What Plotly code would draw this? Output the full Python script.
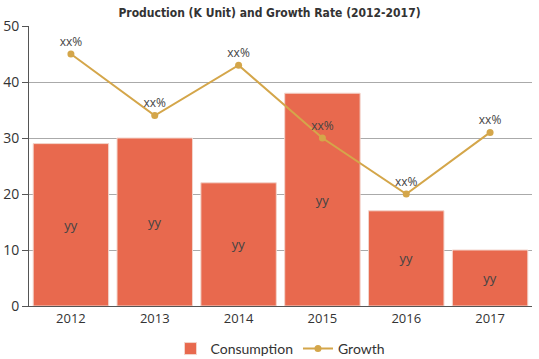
import plotly.graph_objects as go

years = ["2012", "2013", "2014", "2015", "2016", "2017"]
consumption = [29, 30, 22, 38, 17, 10]
growth = [45, 34, 43, 30, 20, 31]
bar_labels = ["yy"] * 6
growth_labels = ["xx%"] * 6

fig = go.Figure()
fig.add_trace(go.Bar(
    x=years, y=consumption, name="Consumption",
    marker=dict(color="#E8694E", line=dict(color="#F3D5CC", width=1)),
    text=bar_labels, textposition="inside", insidetextanchor="middle",
    textfont=dict(color="#444444", size=13, family="Open Sans"),
    width=0.9,
))
fig.add_trace(go.Scatter(
    x=years, y=growth, name="Growth", mode="lines+markers+text",
    line=dict(color="#D4A64A", width=2),
    marker=dict(color="#D4A64A", size=7),
    text=growth_labels, textposition="top center",
    textfont=dict(color="#444444", size=12, family="Open Sans"),
))

fig.update_layout(
    width=539, height=359,
    margin=dict(l=29, r=7, t=26, b=53, autoexpand=False),
    plot_bgcolor="white", paper_bgcolor="white",
    title=dict(text="<b>Production (K Unit) and Growth Rate (2012-2017)</b>",
               x=0.5, xanchor="center", y=0.965, yanchor="middle",
               font=dict(family="DejaVu Sans Condensed", size=12, color="#333333")),
    showlegend=True,
    legend=dict(orientation="h", x=0.5, xanchor="center",
                yref="container", y=0.028, yanchor="middle",
                itemwidth=30, tracegroupgap=0,
                font=dict(family="Lato", size=14, color="#333333")),
    bargap=0.1,
    font=dict(family="Open Sans", color="#333333"),
)
fig.update_xaxes(showline=True, linecolor="#555555", linewidth=1, ticks="",
                 automargin=False,
                 tickfont=dict(size=13, color="#333333"), showgrid=False)
fig.update_yaxes(range=[0, 50], dtick=10, showline=True, linecolor="#555555", linewidth=1,
                 ticks="outside", ticklen=6, tickcolor="#555555", automargin=False,
                 gridcolor="#AAAAAA", gridwidth=1, zeroline=False,
                 tickfont=dict(size=14, color="#333333"))

fig.write_html("out.html", post_script="document.body.style.margin='0';",
               config={"displayModeBar": False})
